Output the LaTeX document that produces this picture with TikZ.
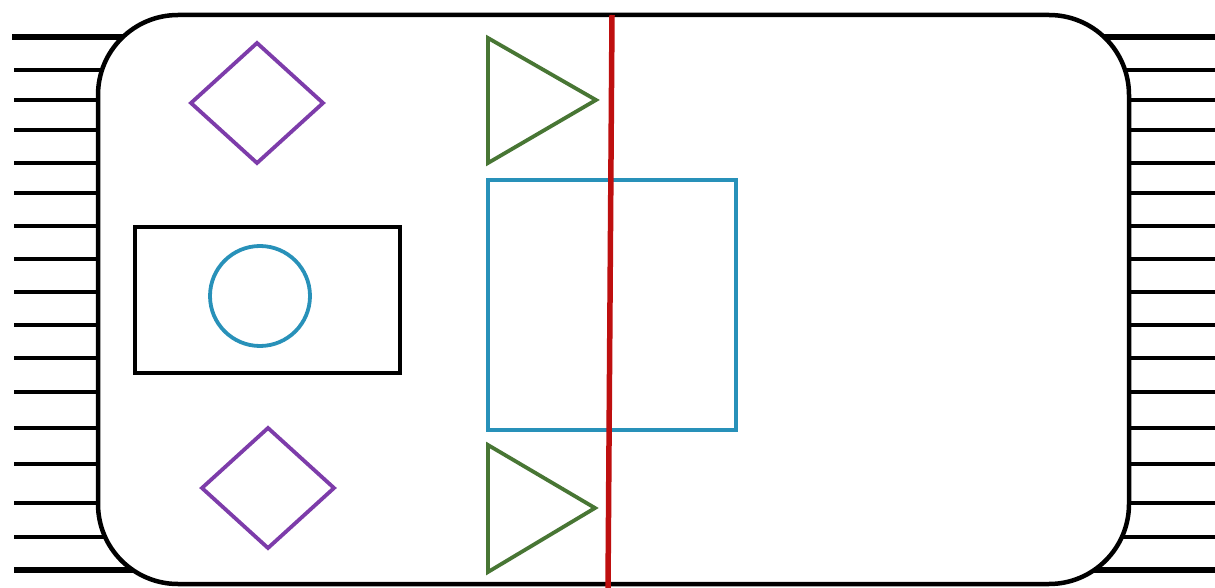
\documentclass[tikz,border=0pt]{standalone}
\definecolor{dpurple}{RGB}{125,60,170}
\definecolor{dgreen}{RGB}{72,118,52}
\definecolor{dblue}{RGB}{40,145,185}
\definecolor{dred}{RGB}{190,15,15}
\tikzset{
  hatch/.style={line width=4.3pt},
  hatchthick/.style={line width=6pt},
  frame/.style={draw=black, fill=white, line width=4.5pt, rounded corners=80pt},
  shp/.style={line width=3.8pt}
}
\begin{document}
\begin{tikzpicture}[x=1pt,y=-1pt]
\useasboundingbox (0,0) rectangle (1215,588);
% hatching
\foreach \y in {70,100,130,163,193,226,259,292,325,358,392,428,464,503,537} {
  \draw[hatch] (14,\y) -- (160,\y);
  \draw[hatch] (1070,\y) -- (1215,\y);
}
\draw[hatchthick] (12,37) -- (180,37);
\draw[hatchthick] (14,570) -- (180,570);
\draw[hatchthick] (1050,37) -- (1215,37);
\draw[hatchthick] (1050,570) -- (1215,570);
% body
\draw[frame] (98,15) rectangle (1129,584);
% shapes
\draw[shp, dpurple] (257,43) -- (323,103) -- (257,163) -- (191,103) -- cycle;
\draw[shp, dpurple] (268,428) -- (334,488) -- (268,548) -- (202,488) -- cycle;
\draw[shp, black] (135,227) rectangle (400,373);
\draw[shp, dblue] (260,296) circle (50);
\draw[shp, dgreen] (488,38) -- (596,100) -- (488,163) -- cycle;
\draw[shp, dgreen] (488,445) -- (595,508) -- (488,572) -- cycle;
\draw[shp, dblue] (488,180) rectangle (736,430);
\draw[line width=5.5pt, dred] (612,15) -- (608,588);
\end{tikzpicture}
\end{document}
